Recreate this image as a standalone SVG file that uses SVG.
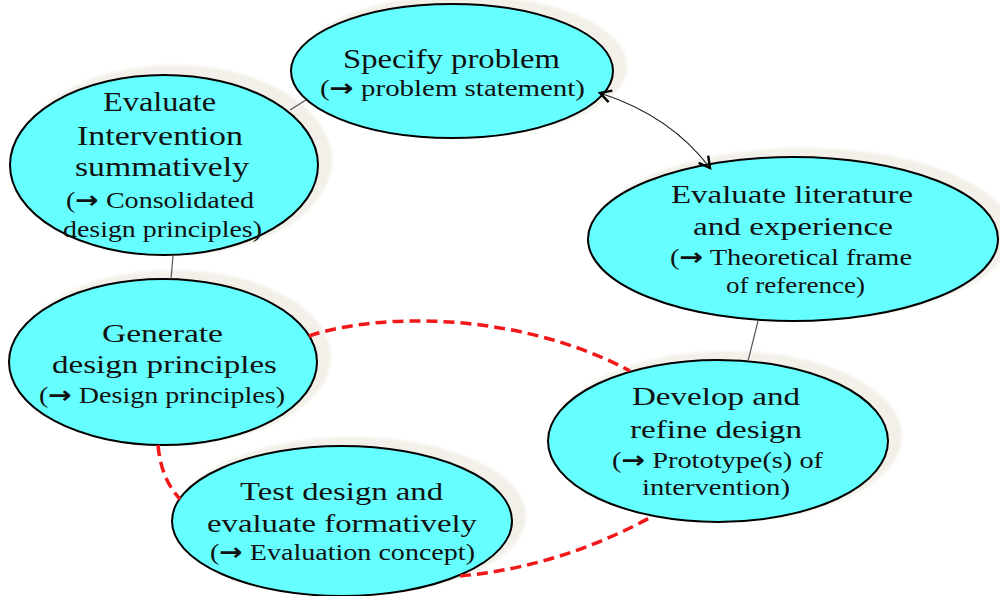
<svg xmlns="http://www.w3.org/2000/svg" width="1000" height="596" viewBox="0 0 1000 596">
<style>
.shadow{fill:#f2f0e8;filter:url(#blur)}
.node{fill:#66ffff;stroke:#000;stroke-width:2}
.t{font-family:"Liberation Serif","DejaVu Serif",serif;fill:#111}
.m{font-size:26px}
.s{font-size:23.5px}
.ar{font-family:"DejaVu Sans",sans-serif;font-weight:bold}
.link{fill:none;stroke:#555;stroke-width:1.2}
.dash{fill:none;stroke:#f01818;stroke-width:3.5;stroke-dasharray:11 6}
.arrow{fill:none;stroke:#222;stroke-width:1.2;marker-start:url(#vh);marker-end:url(#vh)}
</style>
<defs>
<filter id="blur" x="-10%" y="-10%" width="120%" height="120%"><feGaussianBlur stdDeviation="1.5"/></filter>
<marker id="vh" markerUnits="userSpaceOnUse" markerWidth="16" markerHeight="16" refX="12" refY="6.5" orient="auto-start-reverse" viewBox="0 0 16 13">
<path d="M1,0.5 L12,6.5 L1,12.5" fill="none" stroke="#000" stroke-width="2.4"/>
</marker>
</defs>
<rect width="1000" height="596" fill="#fff"/>

<g id="node-specify">
<ellipse class="shadow" cx="462" cy="66" rx="165" ry="71"/>
<ellipse class="node" cx="452" cy="71" rx="161" ry="67"/>
<text class="t" x="343" y="68" font-size="28" textLength="217" lengthAdjust="spacingAndGlyphs">Specify problem</text>
<text class="t s" x="320" y="96" textLength="265" lengthAdjust="spacingAndGlyphs">(<tspan class="ar">→</tspan> problem statement)</text>
</g>

<g id="node-evaluate-literature">
<ellipse class="shadow" cx="803" cy="234" rx="209" ry="86"/>
<ellipse class="node" cx="793" cy="239" rx="205" ry="82"/>
<text class="t m" x="671" y="203" textLength="242" lengthAdjust="spacingAndGlyphs">Evaluate literature</text>
<text class="t m" x="693" y="235" textLength="200" lengthAdjust="spacingAndGlyphs">and experience</text>
<text class="t s" x="670" y="265" textLength="242" lengthAdjust="spacingAndGlyphs">(<tspan class="ar">→</tspan> Theoretical frame</text>
<text class="t s" x="726" y="293" textLength="139" lengthAdjust="spacingAndGlyphs">of reference)</text>
</g>

<g id="node-evaluate-intervention">
<ellipse class="shadow" cx="174" cy="160" rx="158" ry="95"/>
<ellipse class="node" cx="164" cy="165" rx="154" ry="90"/>
<text class="t" x="103" y="111" font-size="27" textLength="113" lengthAdjust="spacingAndGlyphs">Evaluate</text>
<text class="t" x="77" y="145" font-size="27" textLength="166" lengthAdjust="spacingAndGlyphs">Intervention</text>
<text class="t" x="75" y="176" font-size="27" textLength="174" lengthAdjust="spacingAndGlyphs">summatively</text>
<text class="t s" x="66" y="208" textLength="188" lengthAdjust="spacingAndGlyphs">(<tspan class="ar">→</tspan> Consolidated</text>
<text class="t s" x="63" y="237" textLength="199" lengthAdjust="spacingAndGlyphs">design principles)</text>
</g>

<g id="node-generate">
<ellipse class="shadow" cx="173" cy="357" rx="158" ry="87"/>
<ellipse class="node" cx="163" cy="362" rx="154" ry="83"/>
<text class="t m" x="102" y="342" textLength="121" lengthAdjust="spacingAndGlyphs">Generate</text>
<text class="t m" x="52" y="373" textLength="225" lengthAdjust="spacingAndGlyphs">design principles</text>
<text class="t s" x="39" y="403" textLength="246" lengthAdjust="spacingAndGlyphs">(<tspan class="ar">→</tspan> Design principles)</text>
</g>

<g id="node-develop">
<ellipse class="shadow" cx="728" cy="436" rx="174" ry="85"/>
<ellipse class="node" cx="718" cy="441" rx="170" ry="81"/>
<text class="t m" x="632" y="405" textLength="168" lengthAdjust="spacingAndGlyphs">Develop and</text>
<text class="t m" x="630" y="438" textLength="172" lengthAdjust="spacingAndGlyphs">refine design</text>
<text class="t s" x="612" y="468" textLength="211" lengthAdjust="spacingAndGlyphs">(<tspan class="ar">→</tspan> Prototype(s) of</text>
<text class="t s" x="642" y="495" textLength="148" lengthAdjust="spacingAndGlyphs">intervention)</text>
</g>

<g id="node-test">
<ellipse class="shadow" cx="352" cy="516" rx="174" ry="79"/>
<ellipse class="node" cx="342" cy="521" rx="170" ry="75"/>
<text class="t m" x="240" y="500" textLength="203" lengthAdjust="spacingAndGlyphs">Test design and</text>
<text class="t m" x="207" y="532" textLength="270" lengthAdjust="spacingAndGlyphs">evaluate formatively</text>
<text class="t s" x="210" y="560" textLength="265" lengthAdjust="spacingAndGlyphs">(<tspan class="ar">→</tspan> Evaluation concept)</text>
</g>

<g id="connectors">
<line class="link" x1="290" y1="110" x2="306" y2="100"/>
<line class="link" x1="173" y1="256" x2="171" y2="279"/>
<line class="link" x1="758" y1="321" x2="748" y2="361"/>
<path class="arrow" d="M600,93 Q671,116 710,168"/>
<path class="dash" d="M309,336 C380,312 520,312 630,371"/>
<path class="dash" d="M158,445 Q161,479 180,499"/>
<path class="dash" d="M460,576 Q560,567 653,516"/>
</g>
</svg>
